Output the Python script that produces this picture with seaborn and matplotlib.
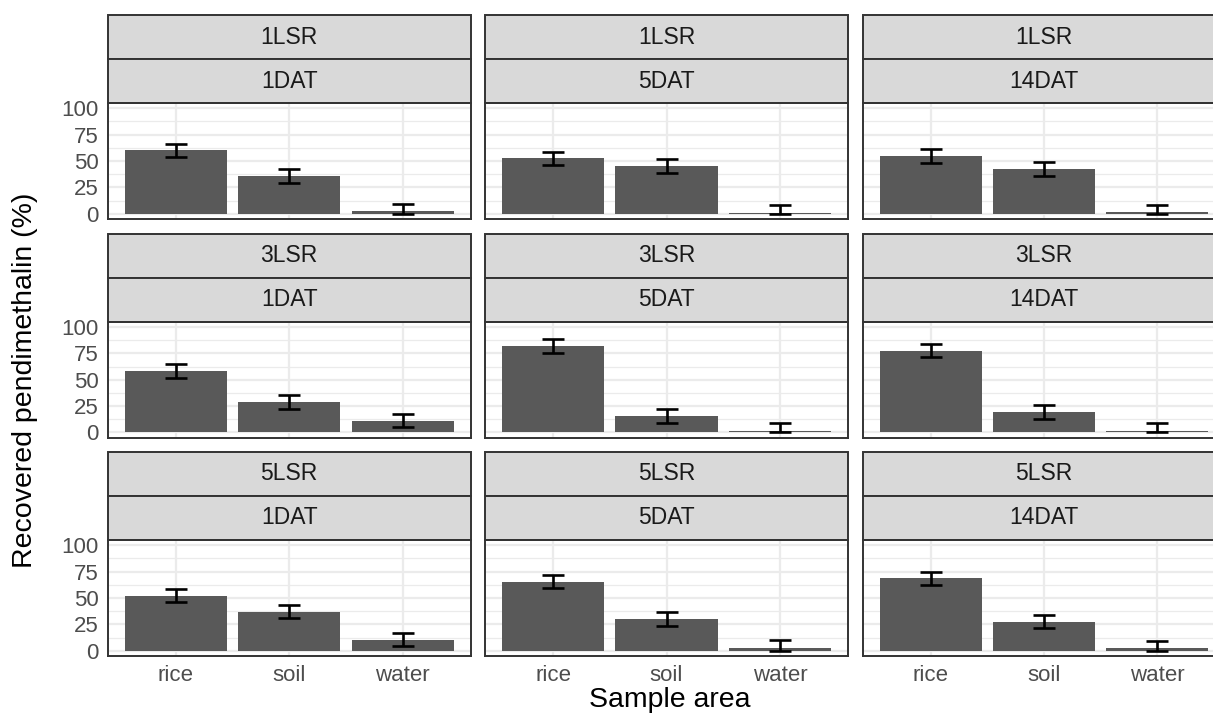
import numpy as np
import pandas as pd
import matplotlib
matplotlib.use("Agg")
import matplotlib.pyplot as plt
from matplotlib.patches import Rectangle
import seaborn as sns

# data (recovered pendimethalin, % with error)
lsr_levels = ["1LSR", "3LSR", "5LSR"]
dat_levels = ["1DAT", "5DAT", "14DAT"]
areas = ["rice", "soil", "water"]

rice = [60.0, 52.5, 54.8, 58.3, 81.7, 77.6, 52.3, 65.6, 68.8]
soil = [36.0, 45.3, 42.4, 28.9, 15.7, 19.5, 36.9, 30.0, 27.4]
water = [2.5, 1.0, 1.5, 11.2, 1.2, 1.5, 10.3, 2.8, 2.5]

rice_err = [6.3, 6.4, 7.0, 6.5, 6.5, 6.3, 6.0, 6.3, 6.3]
soil_err = [6.4, 6.4, 7.0, 6.3, 6.5, 6.6, 6.3, 6.8, 6.3]
water_err = [7.0, 7.5, 7.0, 6.2, 7.3, 7.0, 6.2, 7.2, 7.0]

rows = []
for k, (lsr, dat) in enumerate([(l, d) for l in lsr_levels for d in dat_levels]):
    for area, vals, errs in zip(areas, [rice, soil, water], [rice_err, soil_err, water_err]):
        rows.append({"LSR": lsr, "DAT": dat, "area": area,
                     "value": vals[k], "err": errs[k]})
df = pd.DataFrame(rows)

sns.set_theme(style="white")
plt.rcParams["font.family"] = ["Liberation Sans", "DejaVu Sans"]

W, H = 1213, 722
fig = plt.figure(figsize=(W / 100, H / 100), dpi=100)

col_left = [107.7, 485.0, 862.5]
panel_bottom = [219.0, 437.7, 656.0]
pw, ph = 363.0, 116.0
strip_h = 44.0 / ph

BAR = "#595959"
STRIP = "#D9D9D9"
BORDER = "#333333"
GRID = "#EBEBEB"
TICK_TXT = "#4D4D4D"

for i, lsr in enumerate(lsr_levels):
    for j, dat in enumerate(dat_levels):
        ax = fig.add_axes([col_left[j] / W, (H - panel_bottom[i]) / H, pw / W, ph / H])
        sub = df[(df["LSR"] == lsr) & (df["DAT"] == dat)]

        sns.barplot(data=sub, x="area", y="value", order=areas, color=BAR,
                    saturation=1, width=0.9, errorbar=None, linewidth=0,
                    ax=ax, zorder=3)

        xs = [p.get_x() + p.get_width() / 2 for p in ax.patches]
        vals = sub["value"].to_numpy()
        errs = sub["err"].to_numpy()
        lower = vals - np.maximum(vals - errs, 0)
        ax.errorbar(xs, vals, yerr=[lower, errs], fmt="none", ecolor="black",
                    elinewidth=1.9, capsize=7.8, capthick=1.9, zorder=4)

        ax.set_xlim(-0.6, 2.6)
        ax.set_ylim(-5, 105)
        ax.set_yticks([0, 25, 50, 75, 100])
        ax.set_yticks([12.5, 37.5, 62.5, 87.5], minor=True)
        ax.grid(True, which="major", color=GRID, linewidth=1.6, zorder=0)
        ax.grid(True, which="minor", axis="y", color=GRID, linewidth=0.9, zorder=0)
        ax.set_axisbelow(True)
        ax.set_xlabel("")
        ax.set_ylabel("")

        for s in ax.spines.values():
            s.set_color(BORDER)
            s.set_linewidth(1.4)

        ax.tick_params(axis="both", which="major", length=4.5, width=1.2,
                       color=BORDER, labelsize=16, labelcolor=TICK_TXT, pad=2)
        ax.tick_params(axis="y", which="minor", length=0)
        if j > 0:
            ax.tick_params(axis="y", which="major", length=0, labelleft=False)
        if i < 2:
            ax.tick_params(axis="x", which="major", length=0, labelbottom=False)

        for n, label in enumerate([lsr, dat]):
            y0 = 1 + strip_h * (1 - n)
            ax.add_patch(Rectangle((0, y0), 1, strip_h, transform=ax.transAxes,
                                   facecolor=STRIP, edgecolor=BORDER,
                                   linewidth=1.4, clip_on=False))
            ax.text(0.5, y0 + strip_h / 2, label, transform=ax.transAxes,
                    ha="center", va="center", fontsize=16.5, color="#1A1A1A")

fig.text(670 / W, 1 - 700 / H, "Sample area", ha="center", va="center",
         fontsize=20.5, color="black")
fig.text(25 / W, 1 - 380 / H, "Recovered pendimethalin (%)", ha="center",
         va="center", rotation=90, fontsize=20.5, color="black")

fig.savefig("out.png", dpi=100, facecolor="white")
